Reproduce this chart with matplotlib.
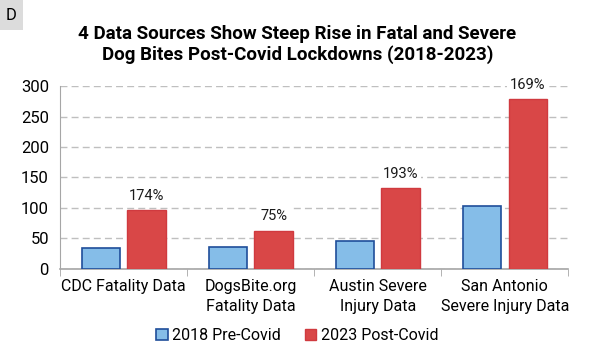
import matplotlib.pyplot as plt
import numpy as np
from matplotlib.patches import Patch, Rectangle

categories = ["CDC Fatality Data", "DogsBite.org\nFatality Data",
              "Austin Severe\nInjury Data", "San Antonio\nSevere Injury Data"]
pre_2018 = [35, 36, 45, 104]
post_2023 = [96, 63, 132, 279]
pct_labels = ["174%", "75%", "193%", "169%"]

plt.rcParams['font.family'] = ['Roboto', 'DejaVu Sans']

blue_fill, blue_edge = "#85BDE8", "#1F4E9A"
red_fill, red_edge = "#D94747", "#D03A3F"

fig = plt.figure(figsize=(5.95, 3.6), dpi=100)
ax = fig.add_axes([0.101, 0.253, 0.854, 0.508])

x = np.arange(len(categories))
w = 0.3
off = 0.18
ax.bar(x - off, pre_2018, w, color=blue_fill, edgecolor=blue_edge, linewidth=1.2, zorder=3)
ax.bar(x + off, post_2023, w, color=red_fill, edgecolor=red_edge, linewidth=1.0, zorder=3)

for xi, v, lab in zip(x, post_2023, pct_labels):
    ax.text(xi + off, v + 23, lab, ha="center", va="center", fontsize=10.5,
            color="#1a1a1a", zorder=4,
            bbox=dict(facecolor="white", edgecolor="none", pad=2))

ax.set_xlim(-0.5, 3.5)
ax.set_ylim(0, 300)
ax.set_yticks(range(0, 301, 50))
ax.yaxis.grid(True, linestyle=(0, (5, 3)), color="#BFBFBF", linewidth=1.0, zorder=0)
ax.set_axisbelow(True)

ax.set_xticks(x)
ax.set_xticklabels(categories, fontsize=11.5, linespacing=1.45)
ax.set_xticks(np.arange(-0.5, 4.0, 1.0), minor=True)
ax.tick_params(axis="x", which="major", length=0, pad=7)
ax.tick_params(axis="x", which="minor", length=5, color="#A6A6A6", direction="out")
ax.tick_params(axis="y", length=0, labelsize=12, pad=8)

for s in ["top", "right"]:
    ax.spines[s].set_visible(False)
ax.spines["left"].set_color("#A6A6A6")
ax.spines["bottom"].set_color("#A6A6A6")
ax.spines["bottom"].set_linewidth(1.2)

fig.text(0.5, 0.905, "4 Data Sources Show Steep Rise in Fatal and Severe",
         ha="center", va="center", fontsize=13.5, fontweight="bold")
fig.text(0.5, 0.848, "Dog Bites Post-Covid Lockdowns (2018-2023)",
         ha="center", va="center", fontsize=13.5, fontweight="bold")

fig.patches.append(Rectangle((0, 1 - 30 / 360), 23 / 595, 30 / 360,
                             transform=fig.transFigure, facecolor="#DCDCDC",
                             edgecolor="none"))
fig.text(11.5 / 595, 1 - 15 / 360, "D", ha="center", va="center", fontsize=12)

handles = [Patch(facecolor=blue_fill, edgecolor=blue_edge, linewidth=1.2),
           Patch(facecolor=red_fill, edgecolor=red_edge)]
fig.legend(handles, ["2018 Pre-Covid", "2023 Post-Covid"], loc="center",
           bbox_to_anchor=(0.5, 0.068), ncol=2, frameon=False, fontsize=11.5,
           handlelength=0.7, handleheight=0.7, handletextpad=0.3, columnspacing=1.5)

fig.savefig("out.png", dpi=100)
